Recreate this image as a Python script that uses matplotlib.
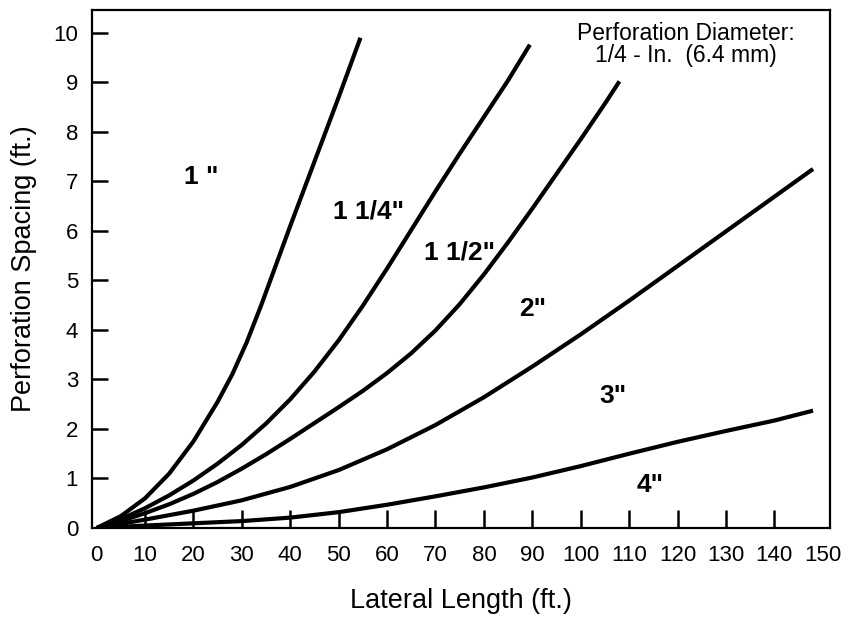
import numpy as np
import matplotlib
matplotlib.use("Agg")
import matplotlib.pyplot as plt

plt.rcParams['font.family'] = ['Liberation Sans', 'DejaVu Sans']

# boundary curves between pipe diameters (lateral length ft, spacing ft)
x_1in = [0, 5, 10, 15, 20, 25, 28, 31, 34, 37, 40, 45, 50, 54.5]
y_1in = [0, 0.24, 0.6, 1.1, 1.75, 2.55, 3.1, 3.75, 4.5, 5.3, 6.1, 7.4, 8.7, 9.9]

x_114in = [0, 5, 10, 15, 20, 25, 30, 35, 40, 45, 50, 55, 60, 65, 70, 75, 80, 85, 89.5]
y_114in = [0, 0.18, 0.40, 0.66, 0.96, 1.30, 1.68, 2.11, 2.60, 3.16, 3.79, 4.49, 5.24,
           6.02, 6.80, 7.56, 8.30, 9.04, 9.76]

x_112in = [0, 5, 10, 15, 20, 25, 30, 35, 40, 45, 50, 55, 60, 65, 70, 75, 80, 85, 90,
           95, 100, 105, 108]
y_112in = [0, 0.14, 0.30, 0.48, 0.69, 0.93, 1.20, 1.49, 1.80, 2.12, 2.44, 2.77, 3.13,
           3.53, 3.99, 4.52, 5.12, 5.77, 6.45, 7.15, 7.85, 8.57, 9.02]

x_2in = [0, 10, 20, 30, 40, 50, 60, 70, 80, 90, 100, 110, 120, 130, 140, 148]
y_2in = [0, 0.17, 0.35, 0.56, 0.83, 1.17, 1.59, 2.08, 2.64, 3.26, 3.91, 4.59, 5.29,
         5.99, 6.69, 7.25]

x_4in = [0, 10, 20, 30, 40, 50, 60, 70, 80, 90, 100, 110, 120, 130, 140, 148]
y_4in = [0, 0.05, 0.095, 0.14, 0.21, 0.32, 0.47, 0.64, 0.82, 1.02, 1.25, 1.50, 1.74,
         1.96, 2.17, 2.37]

# region labels and where they sit
region_labels = ['1 "', '1 1/4"', '1 1/2"', '2"', '3"', '4"']
label_x = [21.6, 56.1, 74.9, 90, 106.7, 114.4]
label_y = [7.08, 6.4, 5.57, 4.42, 2.67, 0.87]

x_ticks = list(range(0, 151, 10))
y_ticks = list(range(0, 11))

fig = plt.figure(figsize=(8.57, 6.22), dpi=100)
ax = fig.add_axes([0.1074, 0.1511, 0.8611, 0.8328])

curves = [(x_1in, y_1in), (x_114in, y_114in), (x_112in, y_112in),
          (x_2in, y_2in), (x_4in, y_4in)]
for xs, ys in curves:
    ax.plot(xs, ys, color='black', lw=3.0, solid_capstyle='butt', solid_joinstyle='round')

for lab, lx, ly in zip(region_labels, label_x, label_y):
    ax.text(lx, ly, lab, fontsize=19, fontweight='bold', ha='center', va='center')

ax.text(121.8, 10.22, 'Perforation Diameter:\n1/4 - In.  (6.4 mm)', fontsize=16.5,
        ha='center', va='top', linespacing=0.95)

ax.set_xlim(-0.95, 151.5)
ax.set_ylim(0, 10.46)
ax.set_xticks(x_ticks)
ax.set_yticks(y_ticks)
ax.tick_params(axis='both', direction='in', width=1.8, labelsize=16)
ax.tick_params(axis='x', length=13, pad=12)
ax.tick_params(axis='y', length=11.5, pad=10)
# no tick marks where they would sit on the frame
for t in (ax.xaxis.get_major_ticks()[0], ax.xaxis.get_major_ticks()[-1],
          ax.yaxis.get_major_ticks()[0]):
    t.tick1line.set_visible(False)
for sp in ax.spines.values():
    sp.set_linewidth(1.6)

ax.set_xlabel('Lateral Length (ft.)', fontsize=19.5, labelpad=16)
ax.set_ylabel('Perforation Spacing (ft.)', fontsize=19.5, labelpad=12)

fig.savefig('out.png', dpi=100)
